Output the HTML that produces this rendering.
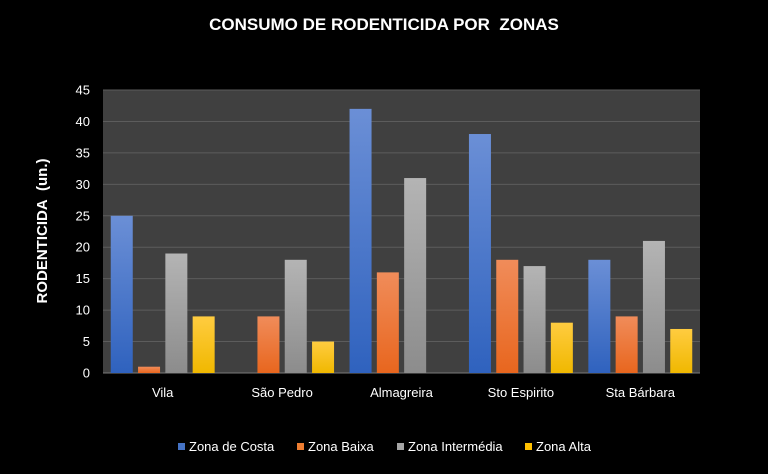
<!DOCTYPE html>
<html><head><meta charset="utf-8"><style>
body{margin:0;background:#000;width:768px;height:469px;overflow:hidden;font-family:"Liberation Sans",sans-serif}
</style></head><body>
<svg width="768" height="469" xmlns="http://www.w3.org/2000/svg">
<defs>
<linearGradient id="g0" x1="0" y1="0" x2="0" y2="1"><stop offset="0" stop-color="#6b8fd6"/><stop offset="1" stop-color="#2f62be"/></linearGradient>
<linearGradient id="g1" x1="0" y1="0" x2="0" y2="1"><stop offset="0" stop-color="#f08c5a"/><stop offset="1" stop-color="#e8661e"/></linearGradient>
<linearGradient id="g2" x1="0" y1="0" x2="0" y2="1"><stop offset="0" stop-color="#b4b4b4"/><stop offset="1" stop-color="#8c8c8c"/></linearGradient>
<linearGradient id="g3" x1="0" y1="0" x2="0" y2="1"><stop offset="0" stop-color="#ffcc40"/><stop offset="1" stop-color="#f0b800"/></linearGradient>
</defs>
<text x="384" y="30" fill="#fff" font-size="17" font-weight="bold" text-anchor="middle">CONSUMO DE RODENTICIDA POR&#160; ZONAS</text>
<rect x="103" y="90" width="597" height="283" fill="#404040"/>
<g id="grid"></g><g id="bars"></g><g id="labels"></g>
<text transform="translate(47,231) rotate(-90)" fill="#fff" font-size="15" font-weight="bold" text-anchor="middle">RODENTICIDA&#160; (un.)</text>
<g id="legend"></g>
</svg>
<script>
const categories=["Vila","São Pedro","Almagreira","Sto Espirito","Sta Bárbara"];
const seriesNames=["Zona de Costa","Zona Baixa","Zona Intermédia","Zona Alta"];
const costa=[25,0,42,38,18];
const baixa=[1,9,16,18,9];
const intermedia=[19,18,31,17,21];
const alta=[9,5,0,8,7];
const yTicks=[0,5,10,15,20,25,30,35,40,45];
const series=[costa,baixa,intermedia,alta];
const legendColors=["#4472c4","#ed7d31","#a5a5a5","#ffc000"];
const NS="http://www.w3.org/2000/svg";
const L=103,R=700,T=90,B=373,yMax=45;
const y=v=>B-(v/yMax)*(B-T);
const cw=(R-L)/categories.length;
function mk(t,a,p){const e=document.createElementNS(NS,t);for(const k in a)e.setAttribute(k,a[k]);p.appendChild(e);return e;}
const grid=document.getElementById('grid'),bars=document.getElementById('bars'),labels=document.getElementById('labels'),legend=document.getElementById('legend');
yTicks.forEach(v=>{
 const l=mk('line',{x1:L,x2:R,y1:y(v),y2:y(v),stroke:v===0?'#7a7a7a':'#5c5c5c','stroke-width':1},grid);
 
 
 const t=mk('text',{x:90,y:y(v)+4.5,fill:'#fff','font-size':13,'text-anchor':'end'},labels);
 t.textContent=v;
 
 
});
const bw=22,step=27.3;
categories.forEach((c,i)=>{
 const cx=L+cw*(i+0.5);
 series.forEach((s,j)=>{
  const x=cx-2*step+(step-bw)/2+j*step;
  const r=mk('rect',{x:x,y:y(s[i]),width:bw,height:B-y(s[i]),fill:'url(#g'+j+')'},bars);
  
  
 });
 const t=mk('text',{x:cx,y:397,fill:'#fff','font-size':13,'text-anchor':'middle'},labels);
 t.textContent=c;
 
 
});
const lx=[178,297,397,525];
seriesNames.forEach((n,j)=>{
 const r=mk('rect',{x:lx[j],y:443,width:7,height:7,fill:legendColors[j]},legend);
 
 
 const t=mk('text',{x:lx[j]+11,y:451,fill:'#fff','font-size':13},legend);
 t.textContent=n;
 
 
});
</script>
</body></html>
